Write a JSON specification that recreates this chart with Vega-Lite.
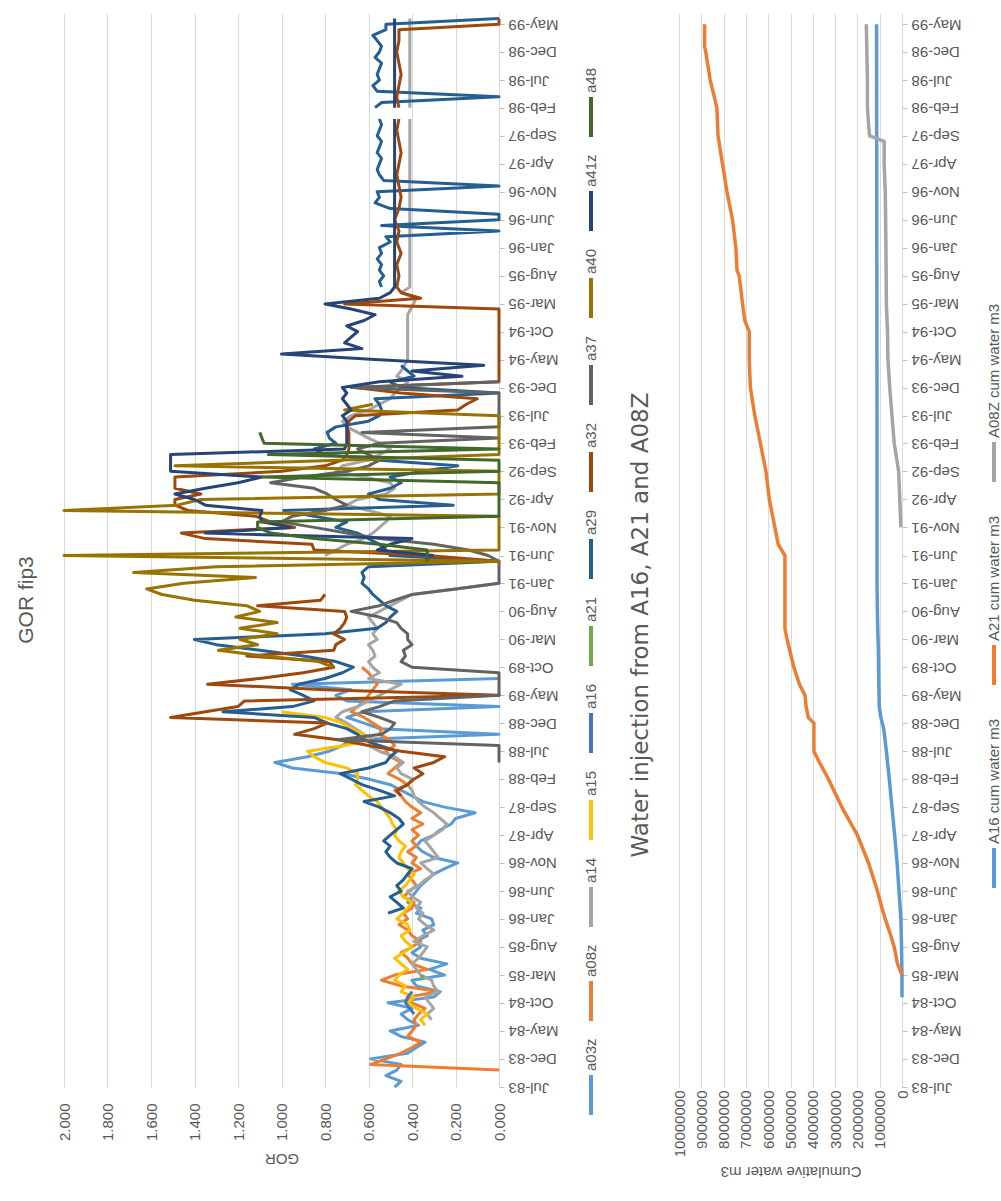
{
"$schema":"https://vega.github.io/schema/vega-lite/v6.json",
"background":"white",
"padding":{"left":15,"top":13,"right":0,"bottom":20},
"config":{"view":{"stroke":null},"font":"Liberation Sans"},
"spacing":29,
"resolve":{"scale":{"color":"independent","x":"independent"},"legend":{"color":"independent"}},
"datasets":{
"gor":[
{"s":"a03z","d":"1983-07","v":0.48},{"s":"a03z","d":"1983-08","v":0.45},{"s":"a03z","d":"1983-09","v":0.52},{"s":"a03z","d":"1983-10","v":0.47},{"s":"a03z","d":"1983-11","v":0.45},{"s":"a03z","d":"1983-12","v":0.59},
{"s":"a03z","d":"1984-01","v":0.42},{"s":"a03z","d":"1984-02","v":0.38},{"s":"a03z","d":"1984-03","v":0.34},{"s":"a03z","d":"1984-04","v":0.45},{"s":"a03z","d":"1984-05","v":0.50},{"s":"a03z","d":"1984-06","v":0.37},{"s":"a03z","d":"1984-07","v":0.42},{"s":"a03z","d":"1984-08","v":0.45},{"s":"a03z","d":"1984-09","v":0.40},{"s":"a03z","d":"1984-10","v":0.51},{"s":"a03z","d":"1984-11","v":0.30},{"s":"a03z","d":"1984-12","v":0.27},
{"s":"a03z","d":"1985-01","v":0.38},{"s":"a03z","d":"1985-02","v":0.40},{"s":"a03z","d":"1985-03","v":0.25},{"s":"a03z","d":"1985-04","v":0.32},{"s":"a03z","d":"1985-05","v":0.24},{"s":"a03z","d":"1985-06","v":0.36},{"s":"a03z","d":"1985-07","v":0.40},{"s":"a03z","d":"1985-08","v":0.36},{"s":"a03z","d":"1985-09","v":0.38},{"s":"a03z","d":"1985-10","v":0.33},{"s":"a03z","d":"1985-11","v":0.35},{"s":"a03z","d":"1985-12","v":0.30},
{"s":"a03z","d":"1986-01","v":0.31},{"s":"a03z","d":"1986-02","v":0.38},{"s":"a03z","d":"1986-03","v":0.36},{"s":"a03z","d":"1986-04","v":0.42},{"s":"a03z","d":"1986-05","v":0.40},{"s":"a03z","d":"1986-06","v":0.38},{"s":"a03z","d":"1986-07","v":0.36},{"s":"a03z","d":"1986-08","v":0.33},{"s":"a03z","d":"1986-09","v":0.30},{"s":"a03z","d":"1986-10","v":0.25},{"s":"a03z","d":"1986-11","v":0.19},{"s":"a03z","d":"1986-12","v":0.30},
{"s":"a03z","d":"1987-01","v":0.35},{"s":"a03z","d":"1987-02","v":0.38},{"s":"a03z","d":"1987-03","v":0.36},{"s":"a03z","d":"1987-04","v":0.30},{"s":"a03z","d":"1987-05","v":0.27},{"s":"a03z","d":"1987-06","v":0.22},{"s":"a03z","d":"1987-07","v":0.20},{"s":"a03z","d":"1987-08","v":0.11},{"s":"a03z","d":"1987-09","v":0.25},{"s":"a03z","d":"1987-10","v":0.35},{"s":"a03z","d":"1987-11","v":0.40},{"s":"a03z","d":"1987-12","v":0.45},
{"s":"a03z","d":"1988-01","v":0.50},{"s":"a03z","d":"1988-02","v":0.60},{"s":"a03z","d":"1988-03","v":0.72},{"s":"a03z","d":"1988-04","v":0.95},{"s":"a03z","d":"1988-05","v":1.03},{"s":"a03z","d":"1988-06","v":0.88},{"s":"a03z","d":"1988-07","v":0.78},{"s":"a03z","d":"1988-08","v":0.72},{"s":"a03z","d":"1988-09","v":0.68},{"s":"a03z","d":"1988-10","v":0.0},{"s":"a03z","d":"1988-11","v":0.55},{"s":"a03z","d":"1988-12","v":0.62},
{"s":"a03z","d":"1989-01","v":0.70},{"s":"a03z","d":"1989-02","v":0.62},{"s":"a03z","d":"1989-03","v":0.0},{"s":"a03z","d":"1989-04","v":0.70},{"s":"a03z","d":"1989-05","v":0.75},{"s":"a03z","d":"1989-06","v":0.68},{"s":"a03z","d":"1989-07","v":0.95},{"s":"a03z","d":"1989-08","v":0.0},
{"s":"a08z","d":"1983-10","v":0.0},{"s":"a08z","d":"1983-11","v":0.59},{"s":"a08z","d":"1983-12","v":0.52},
{"s":"a08z","d":"1984-01","v":0.45},{"s":"a08z","d":"1984-02","v":0.40},{"s":"a08z","d":"1984-03","v":0.36},{"s":"a08z","d":"1984-04","v":0.42},{"s":"a08z","d":"1984-05","v":0.40},{"s":"a08z","d":"1984-06","v":0.38},{"s":"a08z","d":"1984-07","v":0.39},{"s":"a08z","d":"1984-08","v":0.37},{"s":"a08z","d":"1984-09","v":0.34},{"s":"a08z","d":"1984-10","v":0.40},{"s":"a08z","d":"1984-11","v":0.42},{"s":"a08z","d":"1984-12","v":0.28},
{"s":"a08z","d":"1985-01","v":0.45},{"s":"a08z","d":"1985-02","v":0.54},{"s":"a08z","d":"1985-03","v":0.48},{"s":"a08z","d":"1985-04","v":0.33},{"s":"a08z","d":"1985-05","v":0.40},{"s":"a08z","d":"1985-06","v":0.42},{"s":"a08z","d":"1985-07","v":0.45},{"s":"a08z","d":"1985-08","v":0.40},{"s":"a08z","d":"1985-09","v":0.36},{"s":"a08z","d":"1985-10","v":0.40},{"s":"a08z","d":"1985-11","v":0.42},{"s":"a08z","d":"1985-12","v":0.46},
{"s":"a08z","d":"1986-01","v":0.42},{"s":"a08z","d":"1986-02","v":0.44},{"s":"a08z","d":"1986-03","v":0.40},{"s":"a08z","d":"1986-04","v":0.39},{"s":"a08z","d":"1986-05","v":0.44},{"s":"a08z","d":"1986-06","v":0.41},{"s":"a08z","d":"1986-07","v":0.38},{"s":"a08z","d":"1986-08","v":0.40},{"s":"a08z","d":"1986-09","v":0.42},{"s":"a08z","d":"1986-10","v":0.36},{"s":"a08z","d":"1986-11","v":0.40},{"s":"a08z","d":"1986-12","v":0.38},
{"s":"a08z","d":"1987-01","v":0.42},{"s":"a08z","d":"1987-02","v":0.38},{"s":"a08z","d":"1987-03","v":0.40},{"s":"a08z","d":"1987-04","v":0.37},{"s":"a08z","d":"1987-05","v":0.40},{"s":"a08z","d":"1987-06","v":0.35},{"s":"a08z","d":"1987-07","v":0.40},{"s":"a08z","d":"1987-08","v":0.36},{"s":"a08z","d":"1987-09","v":0.40},{"s":"a08z","d":"1987-10","v":0.43},{"s":"a08z","d":"1987-11","v":0.45},{"s":"a08z","d":"1987-12","v":0.48},
{"s":"a08z","d":"1988-01","v":0.42},{"s":"a08z","d":"1988-02","v":0.46},{"s":"a08z","d":"1988-03","v":0.51},{"s":"a08z","d":"1988-04","v":0.48},{"s":"a08z","d":"1988-05","v":0.45},{"s":"a08z","d":"1988-06","v":0.50},{"s":"a08z","d":"1988-07","v":0.52},{"s":"a08z","d":"1988-08","v":0.48},{"s":"a08z","d":"1988-09","v":0.50},{"s":"a08z","d":"1988-10","v":0.55},{"s":"a08z","d":"1988-11","v":0.54},{"s":"a08z","d":"1988-12","v":0.58},
{"s":"a08z","d":"1989-01","v":0.62},{"s":"a08z","d":"1989-02","v":0.68},{"s":"a08z","d":"1989-03","v":0.65},{"s":"a08z","d":"1989-04","v":0.62},{"s":"a08z","d":"1989-05","v":0.60},{"s":"a08z","d":"1989-06","v":0.58},{"s":"a08z","d":"1989-07","v":0.56},{"s":"a08z","d":"1989-08","v":0.58},{"s":"a08z","d":"1989-09","v":0.60},{"s":"a08z","d":"1989-10","v":0.63},
{"s":"a14","d":"1984-07","v":0.31},{"s":"a14","d":"1984-08","v":0.33},{"s":"a14","d":"1984-09","v":0.30},{"s":"a14","d":"1984-10","v":0.32},{"s":"a14","d":"1984-11","v":0.34},{"s":"a14","d":"1984-12","v":0.28},
{"s":"a14","d":"1985-01","v":0.30},{"s":"a14","d":"1985-02","v":0.31},{"s":"a14","d":"1985-03","v":0.36},{"s":"a14","d":"1985-04","v":0.38},{"s":"a14","d":"1985-05","v":0.40},{"s":"a14","d":"1985-06","v":0.37},{"s":"a14","d":"1985-07","v":0.35},{"s":"a14","d":"1985-08","v":0.33},{"s":"a14","d":"1985-09","v":0.39},{"s":"a14","d":"1985-10","v":0.35},{"s":"a14","d":"1985-11","v":0.30},{"s":"a14","d":"1985-12","v":0.34},
{"s":"a14","d":"1986-01","v":0.37},{"s":"a14","d":"1986-02","v":0.35},{"s":"a14","d":"1986-03","v":0.38},{"s":"a14","d":"1986-04","v":0.36},{"s":"a14","d":"1986-05","v":0.40},{"s":"a14","d":"1986-06","v":0.42},{"s":"a14","d":"1986-07","v":0.37},{"s":"a14","d":"1986-08","v":0.34},{"s":"a14","d":"1986-09","v":0.30},{"s":"a14","d":"1986-10","v":0.33},{"s":"a14","d":"1986-11","v":0.36},{"s":"a14","d":"1986-12","v":0.28},
{"s":"a14","d":"1987-01","v":0.30},{"s":"a14","d":"1987-02","v":0.32},{"s":"a14","d":"1987-03","v":0.34},{"s":"a14","d":"1987-04","v":0.30},{"s":"a14","d":"1987-05","v":0.26},{"s":"a14","d":"1987-06","v":0.24},{"s":"a14","d":"1987-07","v":0.27},{"s":"a14","d":"1987-08","v":0.30},{"s":"a14","d":"1987-09","v":0.34},{"s":"a14","d":"1987-10","v":0.37},{"s":"a14","d":"1987-11","v":0.39},{"s":"a14","d":"1987-12","v":0.40},
{"s":"a14","d":"1988-01","v":0.42},{"s":"a14","d":"1988-02","v":0.40},{"s":"a14","d":"1988-03","v":0.45},{"s":"a14","d":"1988-04","v":0.47},{"s":"a14","d":"1988-05","v":0.44},{"s":"a14","d":"1988-06","v":0.48},{"s":"a14","d":"1988-07","v":0.55},{"s":"a14","d":"1988-08","v":0.60},{"s":"a14","d":"1988-09","v":0.58},{"s":"a14","d":"1988-10","v":0.62},{"s":"a14","d":"1988-11","v":0.66},{"s":"a14","d":"1988-12","v":0.70},
{"s":"a14","d":"1989-01","v":0.75},{"s":"a14","d":"1989-02","v":0.72},{"s":"a14","d":"1989-03","v":0.65},{"s":"a14","d":"1989-04","v":0.60},{"s":"a14","d":"1989-05","v":0.55},{"s":"a14","d":"1989-06","v":0.50},{"s":"a14","d":"1989-07","v":0.45},{"s":"a14","d":"1989-08","v":0.60},{"s":"a14","d":"1989-09","v":0.55},{"s":"a14","d":"1989-10","v":0.58},{"s":"a14","d":"1989-11","v":0.60},{"s":"a14","d":"1989-12","v":0.57},
{"s":"a14","d":"1990-01","v":0.58},{"s":"a14","d":"1990-02","v":0.60},{"s":"a14","d":"1990-03","v":0.56},{"s":"a14","d":"1990-04","v":0.58},{"s":"a14","d":"1990-05","v":0.56},{"s":"a14","d":"1990-06","v":0.58},{"s":"a14","d":"1990-07","v":0.60},{"s":"a14","d":"1990-08","v":0.55},{"s":"a14","d":"1990-09","v":0.50},{"s":"a14","d":"1990-10","v":0.45},{"s":"a14","d":"1990-11","v":0.40},{"s":"a14","d":"1990-12","v":0.20},
{"s":"a14","d":"1991-01","v":0.0},{"s":"a14","d":"1991-02","v":null},{"s":"a14","d":"1991-06","v":0.80},{"s":"a14","d":"1991-07","v":0.75},{"s":"a14","d":"1991-08","v":0.70},{"s":"a14","d":"1991-09","v":0.62},{"s":"a14","d":"1991-10","v":0.58},{"s":"a14","d":"1991-11","v":0.55},{"s":"a14","d":"1991-12","v":0.52},
{"s":"a14","d":"1992-01","v":0.50},{"s":"a14","d":"1992-02","v":0.60},{"s":"a14","d":"1992-03","v":0.70},{"s":"a14","d":"1992-04","v":0.65},{"s":"a14","d":"1992-05","v":0.52},{"s":"a14","d":"1992-06","v":0.48},{"s":"a14","d":"1992-07","v":0.50},{"s":"a14","d":"1992-08","v":0.62},{"s":"a14","d":"1992-09","v":0.75},{"s":"a14","d":"1992-10","v":0.72},{"s":"a14","d":"1992-11","v":0.60},{"s":"a14","d":"1992-12","v":0.55},
{"s":"a14","d":"1993-01","v":0.50},{"s":"a14","d":"1993-02","v":0.55},{"s":"a14","d":"1993-03","v":0.60},{"s":"a14","d":"1993-04","v":0.65},{"s":"a14","d":"1993-05","v":0.70},{"s":"a14","d":"1993-06","v":0.72},{"s":"a14","d":"1993-07","v":0.68},{"s":"a14","d":"1993-08","v":0.60},{"s":"a14","d":"1993-09","v":0.55},{"s":"a14","d":"1993-10","v":0.50},{"s":"a14","d":"1993-11","v":0.48},{"s":"a14","d":"1993-12","v":0.45},
{"s":"a14","d":"1994-01","v":0.42},{"s":"a14","d":"1994-02","v":0.47},{"s":"a14","d":"1994-03","v":0.45},{"s":"a14","d":"1994-05","v":0.42},{"s":"a14","d":"1994-09","v":0.42},{"s":"a14","d":"1995-01","v":0.42},{"s":"a14","d":"1995-04","v":0.38},{"s":"a14","d":"1995-05","v":0.45},{"s":"a14","d":"1995-06","v":0.41},
{"s":"a14","d":"1996-01","v":0.41},{"s":"a14","d":"1996-11","v":0.41},{"s":"a14","d":"1997-12","v":0.41},{"s":"a14","d":"1998-01","v":null},{"s":"a14","d":"1998-02","v":0.41},{"s":"a14","d":"1998-12","v":0.41},{"s":"a14","d":"1999-06","v":0.41},
{"s":"a15","d":"1984-06","v":0.34},{"s":"a15","d":"1984-07","v":0.36},{"s":"a15","d":"1984-08","v":0.33},{"s":"a15","d":"1984-09","v":0.38},{"s":"a15","d":"1984-10","v":0.42},{"s":"a15","d":"1984-11","v":0.39},{"s":"a15","d":"1984-12","v":0.45},
{"s":"a15","d":"1985-01","v":0.43},{"s":"a15","d":"1985-02","v":0.48},{"s":"a15","d":"1985-03","v":0.46},{"s":"a15","d":"1985-04","v":0.42},{"s":"a15","d":"1985-05","v":0.45},{"s":"a15","d":"1985-06","v":0.48},{"s":"a15","d":"1985-07","v":0.44},{"s":"a15","d":"1985-08","v":0.40},{"s":"a15","d":"1985-09","v":0.43},{"s":"a15","d":"1985-10","v":0.45},{"s":"a15","d":"1985-11","v":0.41},{"s":"a15","d":"1985-12","v":0.42},
{"s":"a15","d":"1986-01","v":0.47},{"s":"a15","d":"1986-02","v":0.44},{"s":"a15","d":"1986-03","v":0.42},{"s":"a15","d":"1986-04","v":0.40},{"s":"a15","d":"1986-05","v":0.44},{"s":"a15","d":"1986-06","v":0.46},{"s":"a15","d":"1986-07","v":0.43},{"s":"a15","d":"1986-08","v":0.41},{"s":"a15","d":"1986-09","v":0.39},{"s":"a15","d":"1986-10","v":0.42},{"s":"a15","d":"1986-11","v":0.44},{"s":"a15","d":"1986-12","v":0.46},
{"s":"a15","d":"1987-01","v":0.45},{"s":"a15","d":"1987-02","v":0.43},{"s":"a15","d":"1987-03","v":0.46},{"s":"a15","d":"1987-04","v":0.48},{"s":"a15","d":"1987-05","v":0.47},{"s":"a15","d":"1987-06","v":0.49},{"s":"a15","d":"1987-07","v":0.50},{"s":"a15","d":"1987-08","v":0.52},{"s":"a15","d":"1987-09","v":0.54},{"s":"a15","d":"1987-10","v":0.56},{"s":"a15","d":"1987-11","v":0.60},{"s":"a15","d":"1987-12","v":0.63},
{"s":"a15","d":"1988-01","v":0.66},{"s":"a15","d":"1988-02","v":0.65},{"s":"a15","d":"1988-03","v":0.65},{"s":"a15","d":"1988-04","v":0.70},{"s":"a15","d":"1988-05","v":0.80},{"s":"a15","d":"1988-06","v":0.85},{"s":"a15","d":"1988-07","v":0.88},{"s":"a15","d":"1988-08","v":0.71},{"s":"a15","d":"1988-09","v":0.60},{"s":"a15","d":"1988-10","v":0.62},{"s":"a15","d":"1988-11","v":0.68},{"s":"a15","d":"1988-12","v":0.72},
{"s":"a15","d":"1989-01","v":0.80},{"s":"a15","d":"1989-02","v":1.0},
{"s":"a16","d":"1984-08","v":0.39},{"s":"a16","d":"1984-09","v":0.41},{"s":"a16","d":"1984-10","v":0.43},{"s":"a16","d":"1984-11","v":0.42},{"s":"a16","d":"1984-12","v":0.40},
{"s":"a21","d":"1985-02","v":0.36},{"s":"a21","d":"1985-03","v":0.35},
{"s":"a29","d":"1986-02","v":0.51},{"s":"a29","d":"1986-03","v":0.44},{"s":"a29","d":"1986-04","v":0.47},{"s":"a29","d":"1986-05","v":0.50},{"s":"a29","d":"1986-06","v":0.45},{"s":"a29","d":"1986-07","v":0.47},{"s":"a29","d":"1986-08","v":0.44},{"s":"a29","d":"1986-09","v":0.42},{"s":"a29","d":"1986-10","v":0.40},{"s":"a29","d":"1986-11","v":0.47},{"s":"a29","d":"1986-12","v":0.50},
{"s":"a29","d":"1987-01","v":0.52},{"s":"a29","d":"1987-02","v":0.50},{"s":"a29","d":"1987-03","v":0.53},{"s":"a29","d":"1987-04","v":0.50},{"s":"a29","d":"1987-05","v":0.47},{"s":"a29","d":"1987-06","v":0.44},{"s":"a29","d":"1987-07","v":0.46},{"s":"a29","d":"1987-08","v":0.50},{"s":"a29","d":"1987-09","v":0.55},{"s":"a29","d":"1987-10","v":0.62},{"s":"a29","d":"1987-11","v":0.48},{"s":"a29","d":"1987-12","v":0.55},
{"s":"a29","d":"1988-01","v":0.63},{"s":"a29","d":"1988-02","v":0.68},{"s":"a29","d":"1988-03","v":0.73},{"s":"a29","d":"1988-04","v":0.60},{"s":"a29","d":"1988-05","v":0.52},{"s":"a29","d":"1988-06","v":0.50},{"s":"a29","d":"1988-07","v":0.47},{"s":"a29","d":"1988-08","v":0.55},{"s":"a29","d":"1988-09","v":0.62},{"s":"a29","d":"1988-10","v":0.65},{"s":"a29","d":"1988-11","v":0.70},{"s":"a29","d":"1988-12","v":0.79},
{"s":"a29","d":"1989-01","v":0.85},{"s":"a29","d":"1989-02","v":1.27},{"s":"a29","d":"1989-03","v":0.95},{"s":"a29","d":"1989-04","v":0.85},{"s":"a29","d":"1989-05","v":0.90},{"s":"a29","d":"1989-06","v":0.96},{"s":"a29","d":"1989-07","v":0.92},{"s":"a29","d":"1989-08","v":0.80},{"s":"a29","d":"1989-09","v":0.72},{"s":"a29","d":"1989-10","v":0.67},{"s":"a29","d":"1989-11","v":0.75},{"s":"a29","d":"1989-12","v":0.90},
{"s":"a29","d":"1990-01","v":1.10},{"s":"a29","d":"1990-02","v":1.30},{"s":"a29","d":"1990-03","v":1.40},{"s":"a29","d":"1990-04","v":0.80},{"s":"a29","d":"1990-05","v":0.56},{"s":"a29","d":"1990-06","v":0.52},{"s":"a29","d":"1990-07","v":0.50},{"s":"a29","d":"1990-08","v":0.47},{"s":"a29","d":"1990-09","v":0.52},{"s":"a29","d":"1990-10","v":0.55},{"s":"a29","d":"1990-11","v":0.58},{"s":"a29","d":"1990-12","v":0.60},
{"s":"a29","d":"1991-01","v":0.63},{"s":"a29","d":"1991-02","v":0.62},{"s":"a29","d":"1991-03","v":0.63},{"s":"a29","d":"1991-04","v":0.60},{"s":"a29","d":"1991-05","v":0.0},{"s":"a29","d":"1991-06","v":0.50},{"s":"a29","d":"1991-07","v":0.52},{"s":"a29","d":"1991-08","v":0.55},{"s":"a29","d":"1991-09","v":0.60},{"s":"a29","d":"1991-10","v":0.65},{"s":"a29","d":"1991-11","v":0.75},{"s":"a29","d":"1991-12","v":0.70},
{"s":"a29","d":"1992-01","v":0.85},{"s":"a29","d":"1992-02","v":0.99},{"s":"a29","d":"1992-03","v":0.21},{"s":"a29","d":"1992-04","v":0.55},{"s":"a29","d":"1992-05","v":0.60},{"s":"a29","d":"1992-06","v":0.50},{"s":"a29","d":"1992-07","v":0.45},{"s":"a29","d":"1992-08","v":0.50},{"s":"a29","d":"1992-09","v":0.35},{"s":"a29","d":"1992-10","v":0.19},{"s":"a29","d":"1992-11","v":0.55},{"s":"a29","d":"1992-12","v":0.80},
{"s":"a29","d":"1993-01","v":0.85},{"s":"a29","d":"1993-02","v":0.75},{"s":"a29","d":"1993-03","v":0.78},{"s":"a29","d":"1993-04","v":0.79},{"s":"a29","d":"1993-05","v":0.75},{"s":"a29","d":"1993-06","v":0.60},{"s":"a29","d":"1993-07","v":0.55},{"s":"a29","d":"1993-08","v":0.54},{"s":"a29","d":"1993-09","v":0.55},{"s":"a29","d":"1993-10","v":0.57},{"s":"a29","d":"1993-11","v":0.0},{"s":"a29","d":"1993-12","v":0.45},
{"s":"a29","d":"1994-01","v":0.50},{"s":"a29","d":"1994-02","v":0.39},{"s":"a29","d":"1994-03","v":0.42},{"s":"a29","d":"1994-04","v":0.45},{"s":"a29","d":"1994-05","v":null},
{"s":"a29","d":"1995-06","v":0.54},{"s":"a29","d":"1995-07","v":0.55},{"s":"a29","d":"1995-08","v":0.53},{"s":"a29","d":"1995-09","v":0.55},{"s":"a29","d":"1995-10","v":0.54},{"s":"a29","d":"1995-11","v":0.56},{"s":"a29","d":"1995-12","v":0.54},
{"s":"a29","d":"1996-01","v":0.55},{"s":"a29","d":"1996-02","v":0.50},{"s":"a29","d":"1996-03","v":0.52},{"s":"a29","d":"1996-04","v":0.0},{"s":"a29","d":"1996-05","v":0.54},{"s":"a29","d":"1996-06","v":0.0},{"s":"a29","d":"1996-07","v":0.0},{"s":"a29","d":"1996-08","v":0.50},{"s":"a29","d":"1996-09","v":0.57},{"s":"a29","d":"1996-10","v":0.55},{"s":"a29","d":"1996-11","v":0.56},{"s":"a29","d":"1996-12","v":0.0},
{"s":"a29","d":"1997-01","v":0.53},{"s":"a29","d":"1997-02","v":0.55},{"s":"a29","d":"1997-03","v":0.56},{"s":"a29","d":"1997-04","v":0.55},{"s":"a29","d":"1997-05","v":0.54},{"s":"a29","d":"1997-06","v":0.56},{"s":"a29","d":"1997-07","v":0.55},{"s":"a29","d":"1997-08","v":0.54},{"s":"a29","d":"1997-09","v":0.56},{"s":"a29","d":"1997-10","v":0.55},{"s":"a29","d":"1997-11","v":0.54},{"s":"a29","d":"1997-12","v":0.55},
{"s":"a29","d":"1998-01","v":null},{"s":"a29","d":"1998-02","v":0.57},{"s":"a29","d":"1998-03","v":0.54},{"s":"a29","d":"1998-04","v":0.0},{"s":"a29","d":"1998-05","v":0.56},{"s":"a29","d":"1998-06","v":0.58},{"s":"a29","d":"1998-07","v":0.55},{"s":"a29","d":"1998-08","v":0.56},{"s":"a29","d":"1998-09","v":0.55},{"s":"a29","d":"1998-10","v":0.54},{"s":"a29","d":"1998-11","v":0.57},{"s":"a29","d":"1998-12","v":0.55},
{"s":"a29","d":"1999-01","v":0.54},{"s":"a29","d":"1999-02","v":0.56},{"s":"a29","d":"1999-03","v":0.58},{"s":"a29","d":"1999-04","v":0.52},{"s":"a29","d":"1999-05","v":0.52},{"s":"a29","d":"1999-06","v":0.0},
{"s":"a32","d":"1987-11","v":0.45},{"s":"a32","d":"1987-12","v":0.47},
{"s":"a32","d":"1988-01","v":0.42},{"s":"a32","d":"1988-02","v":0.39},{"s":"a32","d":"1988-03","v":0.35},{"s":"a32","d":"1988-04","v":0.39},{"s":"a32","d":"1988-05","v":0.30},{"s":"a32","d":"1988-06","v":0.25},{"s":"a32","d":"1988-07","v":0.45},{"s":"a32","d":"1988-08","v":0.60},{"s":"a32","d":"1988-09","v":0.74},{"s":"a32","d":"1988-10","v":0.94},{"s":"a32","d":"1988-11","v":0.85},{"s":"a32","d":"1988-12","v":0.79},
{"s":"a32","d":"1989-01","v":1.51},{"s":"a32","d":"1989-02","v":1.35},{"s":"a32","d":"1989-03","v":1.20},{"s":"a32","d":"1989-04","v":1.17},{"s":"a32","d":"1989-05","v":0.0},{"s":"a32","d":"1989-06","v":0.80},{"s":"a32","d":"1989-07","v":1.34},{"s":"a32","d":"1989-08","v":1.10},{"s":"a32","d":"1989-09","v":0.90},{"s":"a32","d":"1989-10","v":0.76},{"s":"a32","d":"1989-11","v":0.78},{"s":"a32","d":"1989-12","v":1.16},
{"s":"a32","d":"1990-01","v":0.76},{"s":"a32","d":"1990-02","v":0.75},{"s":"a32","d":"1990-03","v":0.71},{"s":"a32","d":"1990-04","v":0.76},{"s":"a32","d":"1990-05","v":0.73},{"s":"a32","d":"1990-06","v":0.71},{"s":"a32","d":"1990-07","v":0.70},{"s":"a32","d":"1990-08","v":0.71},{"s":"a32","d":"1990-09","v":1.11},{"s":"a32","d":"1990-10","v":0.82},{"s":"a32","d":"1990-11","v":0.80},{"s":"a32","d":"1990-12","v":null},
{"s":"a32","d":"1991-05","v":0.0},{"s":"a32","d":"1991-06","v":0.33},{"s":"a32","d":"1991-07","v":0.85},{"s":"a32","d":"1991-08","v":0.86},{"s":"a32","d":"1991-09","v":1.35},{"s":"a32","d":"1991-10","v":1.46},{"s":"a32","d":"1991-11","v":0.94},{"s":"a32","d":"1991-12","v":1.05},
{"s":"a32","d":"1992-01","v":1.12},{"s":"a32","d":"1992-02","v":1.43},{"s":"a32","d":"1992-03","v":1.49},{"s":"a32","d":"1992-04","v":1.49},{"s":"a32","d":"1992-05","v":1.37},{"s":"a32","d":"1992-06","v":1.49},{"s":"a32","d":"1992-07","v":1.49},{"s":"a32","d":"1992-08","v":1.49},{"s":"a32","d":"1992-09","v":1.0},{"s":"a32","d":"1992-10","v":0.80},{"s":"a32","d":"1992-11","v":0.72},{"s":"a32","d":"1992-12","v":0.70},
{"s":"a32","d":"1993-01","v":0.69},{"s":"a32","d":"1993-02","v":0.69},{"s":"a32","d":"1993-03","v":0.69},{"s":"a32","d":"1993-04","v":0.69},{"s":"a32","d":"1993-05","v":0.70},{"s":"a32","d":"1993-06","v":0.69},{"s":"a32","d":"1993-07","v":0.66},{"s":"a32","d":"1993-08","v":0.19},{"s":"a32","d":"1993-09","v":0.15},{"s":"a32","d":"1993-10","v":0.10},{"s":"a32","d":"1993-11","v":0.45},{"s":"a32","d":"1993-12","v":0.66},
{"s":"a32","d":"1994-01","v":0.0},{"s":"a32","d":"1995-02","v":0.0},{"s":"a32","d":"1995-03","v":0.71},{"s":"a32","d":"1995-04","v":0.36},{"s":"a32","d":"1995-05","v":0.45},{"s":"a32","d":"1995-06","v":0.47},{"s":"a32","d":"1995-08","v":0.46},{"s":"a32","d":"1995-10","v":0.47},{"s":"a32","d":"1995-12","v":0.45},
{"s":"a32","d":"1996-02","v":0.47},{"s":"a32","d":"1996-04","v":0.46},{"s":"a32","d":"1996-06","v":0.48},{"s":"a32","d":"1996-08","v":0.46},{"s":"a32","d":"1996-10","v":0.45},{"s":"a32","d":"1996-12","v":0.46},
{"s":"a32","d":"1997-02","v":0.47},{"s":"a32","d":"1997-04","v":0.46},{"s":"a32","d":"1997-06","v":0.45},{"s":"a32","d":"1997-08","v":0.46},{"s":"a32","d":"1997-10","v":0.47},{"s":"a32","d":"1997-12","v":0.46},
{"s":"a32","d":"1998-01","v":null},{"s":"a32","d":"1998-02","v":0.46},{"s":"a32","d":"1998-04","v":0.47},{"s":"a32","d":"1998-06","v":0.46},{"s":"a32","d":"1998-08","v":0.45},{"s":"a32","d":"1998-10","v":0.46},{"s":"a32","d":"1998-12","v":0.47},
{"s":"a32","d":"1999-02","v":0.46},{"s":"a32","d":"1999-04","v":0.46},{"s":"a32","d":"1999-05","v":0.0},{"s":"a32","d":"1999-06","v":0.0},
{"s":"a37","d":"1988-05","v":0.0},{"s":"a37","d":"1988-06","v":0.0},{"s":"a37","d":"1988-07","v":0.0},{"s":"a37","d":"1988-08","v":0.0},{"s":"a37","d":"1988-09","v":0.74},{"s":"a37","d":"1988-10","v":0.54},{"s":"a37","d":"1988-11","v":0.50},{"s":"a37","d":"1988-12","v":0.48},
{"s":"a37","d":"1989-01","v":0.55},{"s":"a37","d":"1989-02","v":0.63},{"s":"a37","d":"1989-03","v":0.55},{"s":"a37","d":"1989-04","v":0.48},{"s":"a37","d":"1989-05","v":0.0},{"s":"a37","d":"1989-06","v":0.0},{"s":"a37","d":"1989-07","v":0.0},{"s":"a37","d":"1989-08","v":0.0},{"s":"a37","d":"1989-09","v":0.0},{"s":"a37","d":"1989-10","v":0.40},{"s":"a37","d":"1989-11","v":0.45},{"s":"a37","d":"1989-12","v":0.43},
{"s":"a37","d":"1990-01","v":0.44},{"s":"a37","d":"1990-02","v":0.40},{"s":"a37","d":"1990-03","v":0.42},{"s":"a37","d":"1990-04","v":0.42},{"s":"a37","d":"1990-05","v":0.45},{"s":"a37","d":"1990-06","v":0.47},{"s":"a37","d":"1990-07","v":0.55},{"s":"a37","d":"1990-08","v":0.68},{"s":"a37","d":"1990-09","v":0.55},{"s":"a37","d":"1990-10","v":0.48},{"s":"a37","d":"1990-11","v":0.40},{"s":"a37","d":"1990-12","v":0.20},
{"s":"a37","d":"1991-01","v":0.0},{"s":"a37","d":"1991-02","v":0.0},{"s":"a37","d":"1991-03","v":0.0},{"s":"a37","d":"1991-04","v":0.0},{"s":"a37","d":"1991-05","v":0.0},{"s":"a37","d":"1991-06","v":0.05},{"s":"a37","d":"1991-07","v":0.14},{"s":"a37","d":"1991-08","v":0.30},{"s":"a37","d":"1991-09","v":0.55},{"s":"a37","d":"1991-10","v":0.70},{"s":"a37","d":"1991-11","v":0.85},{"s":"a37","d":"1991-12","v":1.0},
{"s":"a37","d":"1992-01","v":0.95},{"s":"a37","d":"1992-02","v":0.80},{"s":"a37","d":"1992-03","v":0.70},{"s":"a37","d":"1992-04","v":0.75},{"s":"a37","d":"1992-05","v":0.79},{"s":"a37","d":"1992-06","v":0.85},{"s":"a37","d":"1992-07","v":1.05},{"s":"a37","d":"1992-08","v":0.90},{"s":"a37","d":"1992-09","v":0.70},{"s":"a37","d":"1992-10","v":0.60},{"s":"a37","d":"1992-11","v":0.55},{"s":"a37","d":"1992-12","v":0.60},
{"s":"a37","d":"1993-01","v":0.65},{"s":"a37","d":"1993-02","v":0.55},{"s":"a37","d":"1993-03","v":0.0},{"s":"a37","d":"1993-04","v":0.63},{"s":"a37","d":"1993-05","v":0.0},{"s":"a37","d":"1993-06","v":0.0},{"s":"a37","d":"1993-07","v":0.0},{"s":"a37","d":"1993-08","v":0.0},{"s":"a37","d":"1993-09","v":0.0},{"s":"a37","d":"1993-10","v":0.0},{"s":"a37","d":"1993-11","v":0.0},{"s":"a37","d":"1993-12","v":0.68},{"s":"a37","d":"1994-01","v":0.0},
{"s":"a40","d":"1989-10","v":0.76},{"s":"a40","d":"1989-11","v":0.83},{"s":"a40","d":"1989-12","v":1.08},
{"s":"a40","d":"1990-01","v":1.29},{"s":"a40","d":"1990-02","v":1.11},{"s":"a40","d":"1990-03","v":1.19},{"s":"a40","d":"1990-04","v":1.02},{"s":"a40","d":"1990-05","v":1.19},{"s":"a40","d":"1990-06","v":1.02},{"s":"a40","d":"1990-07","v":1.21},{"s":"a40","d":"1990-08","v":1.10},{"s":"a40","d":"1990-09","v":1.16},{"s":"a40","d":"1990-10","v":1.40},{"s":"a40","d":"1990-11","v":1.55},{"s":"a40","d":"1990-12","v":1.62},
{"s":"a40","d":"1991-01","v":1.45},{"s":"a40","d":"1991-02","v":1.12},{"s":"a40","d":"1991-03","v":1.68},{"s":"a40","d":"1991-04","v":1.30},{"s":"a40","d":"1991-05","v":0.0},{"s":"a40","d":"1991-06","v":2.0},{"s":"a40","d":"1991-07","v":0.0},{"s":"a40","d":"1991-10","v":0.0},
{"s":"a40","d":"1992-01","v":0.0},{"s":"a40","d":"1992-02","v":2.0},{"s":"a40","d":"1992-03","v":1.48},{"s":"a40","d":"1992-04","v":1.37},{"s":"a40","d":"1992-05","v":0.0},{"s":"a40","d":"1992-09","v":0.0},{"s":"a40","d":"1992-10","v":1.49},{"s":"a40","d":"1992-11","v":0.74},{"s":"a40","d":"1992-12","v":0.0},
{"s":"a40","d":"1993-07","v":0.0},{"s":"a40","d":"1993-08","v":0.71},{"s":"a40","d":"1993-09","v":0.58},
{"s":"a41z","d":"1991-06","v":0.30},{"s":"a41z","d":"1991-07","v":0.56},{"s":"a41z","d":"1991-08","v":0.50},{"s":"a41z","d":"1991-09","v":0.40},{"s":"a41z","d":"1991-10","v":1.35},{"s":"a41z","d":"1991-11","v":0.96},{"s":"a41z","d":"1991-12","v":1.09},
{"s":"a41z","d":"1992-01","v":1.10},{"s":"a41z","d":"1992-02","v":1.09},{"s":"a41z","d":"1992-03","v":1.35},{"s":"a41z","d":"1992-04","v":1.40},{"s":"a41z","d":"1992-05","v":1.49},{"s":"a41z","d":"1992-06","v":1.35},{"s":"a41z","d":"1992-07","v":1.20},{"s":"a41z","d":"1992-08","v":1.09},{"s":"a41z","d":"1992-09","v":1.51},{"s":"a41z","d":"1992-10","v":1.51},{"s":"a41z","d":"1992-11","v":1.51},{"s":"a41z","d":"1992-12","v":1.51},
{"s":"a41z","d":"1993-01","v":0.71},{"s":"a41z","d":"1993-02","v":0.70},{"s":"a41z","d":"1993-03","v":0.70},{"s":"a41z","d":"1993-04","v":0.70},{"s":"a41z","d":"1993-05","v":0.70},{"s":"a41z","d":"1993-06","v":0.70},{"s":"a41z","d":"1993-07","v":0.72},{"s":"a41z","d":"1993-08","v":0.68},{"s":"a41z","d":"1993-09","v":0.70},{"s":"a41z","d":"1993-10","v":0.72},{"s":"a41z","d":"1993-11","v":0.70},{"s":"a41z","d":"1993-12","v":0.72},
{"s":"a41z","d":"1994-01","v":0.55},{"s":"a41z","d":"1994-02","v":0.17},{"s":"a41z","d":"1994-03","v":0.40},{"s":"a41z","d":"1994-04","v":0.07},{"s":"a41z","d":"1994-05","v":0.55},{"s":"a41z","d":"1994-06","v":1.0},{"s":"a41z","d":"1994-07","v":0.63},{"s":"a41z","d":"1994-08","v":0.71},{"s":"a41z","d":"1994-09","v":0.68},{"s":"a41z","d":"1994-10","v":0.65},{"s":"a41z","d":"1994-11","v":0.70},{"s":"a41z","d":"1994-12","v":0.62},
{"s":"a41z","d":"1995-01","v":0.57},{"s":"a41z","d":"1995-02","v":0.68},{"s":"a41z","d":"1995-03","v":0.80},{"s":"a41z","d":"1995-04","v":0.55},{"s":"a41z","d":"1995-05","v":0.50},{"s":"a41z","d":"1995-06","v":0.48},
{"s":"a41z","d":"1996-06","v":0.48},{"s":"a41z","d":"1997-12","v":0.48},{"s":"a41z","d":"1998-01","v":null},{"s":"a41z","d":"1998-02","v":0.48},{"s":"a41z","d":"1999-06","v":0.48},
{"s":"a48","d":"1991-05","v":0.33},{"s":"a48","d":"1991-06","v":0.33},{"s":"a48","d":"1991-07","v":0.33},{"s":"a48","d":"1991-08","v":0.55},{"s":"a48","d":"1991-09","v":0.85},{"s":"a48","d":"1991-10","v":1.05},{"s":"a48","d":"1991-11","v":1.11},{"s":"a48","d":"1991-12","v":1.11},
{"s":"a48","d":"1992-01","v":0.0},{"s":"a48","d":"1992-02","v":0.0},{"s":"a48","d":"1992-03","v":0.0},{"s":"a48","d":"1992-04","v":0.0},{"s":"a48","d":"1992-05","v":0.0},{"s":"a48","d":"1992-06","v":0.0},{"s":"a48","d":"1992-07","v":0.0},{"s":"a48","d":"1992-08","v":1.09},{"s":"a48","d":"1992-09","v":0.0},{"s":"a48","d":"1992-10","v":0.0},{"s":"a48","d":"1992-11","v":0.0},{"s":"a48","d":"1992-12","v":1.06},
{"s":"a48","d":"1993-01","v":0.0},{"s":"a48","d":"1993-02","v":1.08},{"s":"a48","d":"1993-03","v":1.09},{"s":"a48","d":"1993-04","v":1.10}
],
"water":[
{"s":"A16 cum water m3","d":"1984-11","v":0},{"s":"A16 cum water m3","d":"1985-03","v":0},{"s":"A16 cum water m3","d":"1985-08","v":20000},{"s":"A16 cum water m3","d":"1986-01","v":50000},{"s":"A16 cum water m3","d":"1986-04","v":100000},{"s":"A16 cum water m3","d":"1986-07","v":150000},{"s":"A16 cum water m3","d":"1986-11","v":220000},{"s":"A16 cum water m3","d":"1987-04","v":330000},{"s":"A16 cum water m3","d":"1987-09","v":450000},{"s":"A16 cum water m3","d":"1988-02","v":570000},{"s":"A16 cum water m3","d":"1988-07","v":700000},{"s":"A16 cum water m3","d":"1988-11","v":820000},{"s":"A16 cum water m3","d":"1989-01","v":950000},{"s":"A16 cum water m3","d":"1989-03","v":1020000},{"s":"A16 cum water m3","d":"1989-07","v":1040000},{"s":"A16 cum water m3","d":"1990-01","v":1060000},{"s":"A16 cum water m3","d":"1990-07","v":1100000},{"s":"A16 cum water m3","d":"1991-01","v":1120000},{"s":"A16 cum water m3","d":"1993-07","v":1120000},{"s":"A16 cum water m3","d":"1996-01","v":1130000},{"s":"A16 cum water m3","d":"1999-05","v":1140000},
{"s":"A21 cum water m3","d":"1985-03","v":0},{"s":"A21 cum water m3","d":"1985-05","v":200000},{"s":"A21 cum water m3","d":"1985-08","v":350000},{"s":"A21 cum water m3","d":"1985-10","v":500000},{"s":"A21 cum water m3","d":"1986-01","v":750000},{"s":"A21 cum water m3","d":"1986-03","v":900000},{"s":"A21 cum water m3","d":"1986-06","v":1100000},{"s":"A21 cum water m3","d":"1986-11","v":1500000},{"s":"A21 cum water m3","d":"1987-04","v":2000000},{"s":"A21 cum water m3","d":"1987-09","v":2700000},{"s":"A21 cum water m3","d":"1988-02","v":3300000},{"s":"A21 cum water m3","d":"1988-05","v":3700000},{"s":"A21 cum water m3","d":"1988-07","v":3950000},{"s":"A21 cum water m3","d":"1988-12","v":3950000},{"s":"A21 cum water m3","d":"1989-01","v":4200000},{"s":"A21 cum water m3","d":"1989-03","v":4300000},{"s":"A21 cum water m3","d":"1989-05","v":4350000},{"s":"A21 cum water m3","d":"1989-07","v":4600000},{"s":"A21 cum water m3","d":"1989-10","v":4850000},{"s":"A21 cum water m3","d":"1990-03","v":5150000},{"s":"A21 cum water m3","d":"1990-05","v":5250000},{"s":"A21 cum water m3","d":"1991-06","v":5250000},{"s":"A21 cum water m3","d":"1991-08","v":5550000},{"s":"A21 cum water m3","d":"1991-11","v":5700000},{"s":"A21 cum water m3","d":"1992-04","v":5950000},{"s":"A21 cum water m3","d":"1992-09","v":6100000},{"s":"A21 cum water m3","d":"1993-02","v":6350000},{"s":"A21 cum water m3","d":"1993-07","v":6600000},{"s":"A21 cum water m3","d":"1993-12","v":6800000},{"s":"A21 cum water m3","d":"1994-05","v":6850000},{"s":"A21 cum water m3","d":"1994-10","v":6850000},{"s":"A21 cum water m3","d":"1994-12","v":7050000},{"s":"A21 cum water m3","d":"1995-03","v":7150000},{"s":"A21 cum water m3","d":"1995-08","v":7300000},{"s":"A21 cum water m3","d":"1995-09","v":7400000},{"s":"A21 cum water m3","d":"1996-01","v":7450000},{"s":"A21 cum water m3","d":"1996-06","v":7600000},{"s":"A21 cum water m3","d":"1996-11","v":7850000},{"s":"A21 cum water m3","d":"1997-04","v":8050000},{"s":"A21 cum water m3","d":"1997-09","v":8250000},{"s":"A21 cum water m3","d":"1998-02","v":8300000},{"s":"A21 cum water m3","d":"1998-07","v":8600000},{"s":"A21 cum water m3","d":"1998-12","v":8800000},{"s":"A21 cum water m3","d":"1999-01","v":8850000},{"s":"A21 cum water m3","d":"1999-05","v":8850000},
{"s":"A08Z cum water m3","d":"1991-11","v":50000},{"s":"A08Z cum water m3","d":"1992-04","v":100000},{"s":"A08Z cum water m3","d":"1992-09","v":150000},{"s":"A08Z cum water m3","d":"1993-02","v":350000},{"s":"A08Z cum water m3","d":"1993-07","v":450000},{"s":"A08Z cum water m3","d":"1993-12","v":550000},{"s":"A08Z cum water m3","d":"1994-05","v":630000},{"s":"A08Z cum water m3","d":"1994-10","v":650000},{"s":"A08Z cum water m3","d":"1995-03","v":700000},{"s":"A08Z cum water m3","d":"1996-01","v":720000},{"s":"A08Z cum water m3","d":"1996-11","v":750000},{"s":"A08Z cum water m3","d":"1997-04","v":800000},{"s":"A08Z cum water m3","d":"1997-08","v":800000},{"s":"A08Z cum water m3","d":"1997-09","v":1450000},{"s":"A08Z cum water m3","d":"1997-11","v":1500000},{"s":"A08Z cum water m3","d":"1998-02","v":1550000},{"s":"A08Z cum water m3","d":"1998-07","v":1550000},{"s":"A08Z cum water m3","d":"1999-05","v":1600000}
]
},
"hconcat":[
{
"width":435,"height":1074,
"title":{"text":"GOR fip3","orient":"left","anchor":"middle","fontSize":21,"fontWeight":"normal","color":"#595959","offset":20,"dx":-50},
"data":{"name":"gor"},
"mark":{"type":"line","strokeWidth":3,"strokeJoin":"round","invalid":"break-paths-show-domains"},
"encoding":{
"y":{"field":"d","type":"temporal","timeUnit":"utcyearmonth",
"scale":{"domain":[{"year":1983,"month":7,"date":1,"utc":true},{"year":1999,"month":7,"date":1,"utc":true}]},
"axis":{"orient":"right","title":null,"format":"%b-%y","labelAngle":180,"labelAlign":"right","labelBaseline":"middle","labelFontSize":15,"labelColor":"#595959","labelOverlap":false,"labelFlush":false,"labelPadding":4,"tickSize":5,"tickColor":"#BFBFBF","domainColor":"#D9D9D9","grid":false,
"values":[{"year":1983,"month":7,"date":1,"utc":true},{"year":1983,"month":12,"date":1,"utc":true},{"year":1984,"month":5,"date":1,"utc":true},{"year":1984,"month":10,"date":1,"utc":true},{"year":1985,"month":3,"date":1,"utc":true},{"year":1985,"month":8,"date":1,"utc":true},{"year":1986,"month":1,"date":1,"utc":true},{"year":1986,"month":6,"date":1,"utc":true},{"year":1986,"month":11,"date":1,"utc":true},{"year":1987,"month":4,"date":1,"utc":true},{"year":1987,"month":9,"date":1,"utc":true},{"year":1988,"month":2,"date":1,"utc":true},{"year":1988,"month":7,"date":1,"utc":true},{"year":1988,"month":12,"date":1,"utc":true},{"year":1989,"month":5,"date":1,"utc":true},{"year":1989,"month":10,"date":1,"utc":true},{"year":1990,"month":3,"date":1,"utc":true},{"year":1990,"month":8,"date":1,"utc":true},{"year":1991,"month":1,"date":1,"utc":true},{"year":1991,"month":6,"date":1,"utc":true},{"year":1991,"month":11,"date":1,"utc":true},{"year":1992,"month":4,"date":1,"utc":true},{"year":1992,"month":9,"date":1,"utc":true},{"year":1993,"month":2,"date":1,"utc":true},{"year":1993,"month":7,"date":1,"utc":true},{"year":1993,"month":12,"date":1,"utc":true},{"year":1994,"month":5,"date":1,"utc":true},{"year":1994,"month":10,"date":1,"utc":true},{"year":1995,"month":3,"date":1,"utc":true},{"year":1995,"month":8,"date":1,"utc":true},{"year":1996,"month":1,"date":1,"utc":true},{"year":1996,"month":6,"date":1,"utc":true},{"year":1996,"month":11,"date":1,"utc":true},{"year":1997,"month":4,"date":1,"utc":true},{"year":1997,"month":9,"date":1,"utc":true},{"year":1998,"month":2,"date":1,"utc":true},{"year":1998,"month":7,"date":1,"utc":true},{"year":1998,"month":12,"date":1,"utc":true},{"year":1999,"month":5,"date":1,"utc":true}]}},
"x":{"field":"v","type":"quantitative","scale":{"domain":[0,2],"reverse":true,"nice":false},
"axis":{"orient":"bottom","title":"GOR","titleAngle":180,"titleBaseline":"bottom","titleFontSize":15,"titleFontWeight":"normal","titleColor":"#595959","titlePadding":10,"format":".3f","values":[0,0.2,0.4,0.6,0.8,1,1.2,1.4,1.6,1.8,2],"labelAngle":270,"labelAlign":"right","labelBaseline":"middle","labelFontSize":15,"labelColor":"#595959","labelPadding":16,"labelFlush":false,"labelOverlap":false,"ticks":false,"domain":false,"grid":true,"gridColor":"#D9D9D9","gridWidth":1}},
"color":{"field":"s","type":"nominal",
"scale":{"domain":["a48","a41z","a40","a37","a32","a29","a21","a16","a15","a14","a08z","a03z"],"range":["#43682B","#264478","#997300","#636363","#9E480E","#255E91","#70AD47","#4472C4","#FFC000","#A5A5A5","#ED7D31","#5B9BD5"]},
"legend":{"title":null,"orient":"none","legendX":505,"legendY":82,"direction":"vertical","symbolType":"M0,-1L0,1","symbolSize":1600,"symbolStrokeWidth":4,"labelFontSize":15,"labelColor":"#595959","labelOffset":-22,"labelAlign":"left","labelBaseline":"middle","rowPadding":9,"padding":0,
"encode":{"labels":{"update":{"angle":{"value":-90},"dx":{"value":24}}}}}},
"order":{"field":"d","type":"temporal"}
}
},
{
"width":223,"height":1074,
"title":{"text":"Water injection from A16, A21 and A08Z","orient":"left","anchor":"middle","font":"DejaVu Sans","fontSize":23,"fontWeight":"normal","color":"#595959","offset":19,"dx":-75},
"data":{"name":"water"},
"mark":{"type":"line","strokeWidth":3.5,"strokeJoin":"round"},
"encoding":{
"y":{"field":"d","type":"temporal","timeUnit":"utcyearmonth",
"scale":{"domain":[{"year":1983,"month":7,"date":1,"utc":true},{"year":1999,"month":7,"date":1,"utc":true}]},
"axis":{"orient":"right","title":null,"format":"%b-%y","labelAngle":180,"labelAlign":"right","labelBaseline":"middle","labelFontSize":15,"labelColor":"#595959","labelOverlap":false,"labelFlush":false,"labelPadding":4,"tickSize":5,"tickColor":"#BFBFBF","domainColor":"#D9D9D9","grid":false,
"values":[{"year":1983,"month":7,"date":1,"utc":true},{"year":1983,"month":12,"date":1,"utc":true},{"year":1984,"month":5,"date":1,"utc":true},{"year":1984,"month":10,"date":1,"utc":true},{"year":1985,"month":3,"date":1,"utc":true},{"year":1985,"month":8,"date":1,"utc":true},{"year":1986,"month":1,"date":1,"utc":true},{"year":1986,"month":6,"date":1,"utc":true},{"year":1986,"month":11,"date":1,"utc":true},{"year":1987,"month":4,"date":1,"utc":true},{"year":1987,"month":9,"date":1,"utc":true},{"year":1988,"month":2,"date":1,"utc":true},{"year":1988,"month":7,"date":1,"utc":true},{"year":1988,"month":12,"date":1,"utc":true},{"year":1989,"month":5,"date":1,"utc":true},{"year":1989,"month":10,"date":1,"utc":true},{"year":1990,"month":3,"date":1,"utc":true},{"year":1990,"month":8,"date":1,"utc":true},{"year":1991,"month":1,"date":1,"utc":true},{"year":1991,"month":6,"date":1,"utc":true},{"year":1991,"month":11,"date":1,"utc":true},{"year":1992,"month":4,"date":1,"utc":true},{"year":1992,"month":9,"date":1,"utc":true},{"year":1993,"month":2,"date":1,"utc":true},{"year":1993,"month":7,"date":1,"utc":true},{"year":1993,"month":12,"date":1,"utc":true},{"year":1994,"month":5,"date":1,"utc":true},{"year":1994,"month":10,"date":1,"utc":true},{"year":1995,"month":3,"date":1,"utc":true},{"year":1995,"month":8,"date":1,"utc":true},{"year":1996,"month":1,"date":1,"utc":true},{"year":1996,"month":6,"date":1,"utc":true},{"year":1996,"month":11,"date":1,"utc":true},{"year":1997,"month":4,"date":1,"utc":true},{"year":1997,"month":9,"date":1,"utc":true},{"year":1998,"month":2,"date":1,"utc":true},{"year":1998,"month":7,"date":1,"utc":true},{"year":1998,"month":12,"date":1,"utc":true},{"year":1999,"month":5,"date":1,"utc":true}]}},
"x":{"field":"v","type":"quantitative","scale":{"domain":[0,10000000],"reverse":true,"nice":false},
"axis":{"orient":"bottom","title":"Cumulative water m3","titleAngle":180,"titleBaseline":"bottom","titleFontSize":15,"titleFontWeight":"normal","titleColor":"#595959","titlePadding":7,"format":"d","values":[0,1000000,2000000,3000000,4000000,5000000,6000000,7000000,8000000,9000000,10000000],"labelAngle":270,"labelAlign":"right","labelBaseline":"middle","labelFontSize":15,"labelColor":"#595959","labelPadding":3,"labelFlush":false,"labelOverlap":false,"ticks":false,"domain":false,"grid":true,"gridColor":"#D9D9D9","gridWidth":1}},
"color":{"field":"s","type":"nominal",
"scale":{"domain":["A08Z cum water m3","A21 cum water m3","A16 cum water m3"],"range":["#A5A5A5","#ED7D31","#5B9BD5"]},
"legend":{"title":null,"orient":"none","legendX":293,"legendY":427,"direction":"vertical","symbolType":"M0,-1L0,1","symbolSize":1600,"symbolStrokeWidth":4,"labelFontSize":15,"labelColor":"#595959","labelOffset":-22,"labelAlign":"left","labelBaseline":"middle","rowPadding":25,"padding":0,"labelLimit":300,
"encode":{"labels":{"update":{"angle":{"value":-90},"dx":{"value":24}}}}}},
"order":{"field":"d","type":"temporal"}
}
}
]
}
